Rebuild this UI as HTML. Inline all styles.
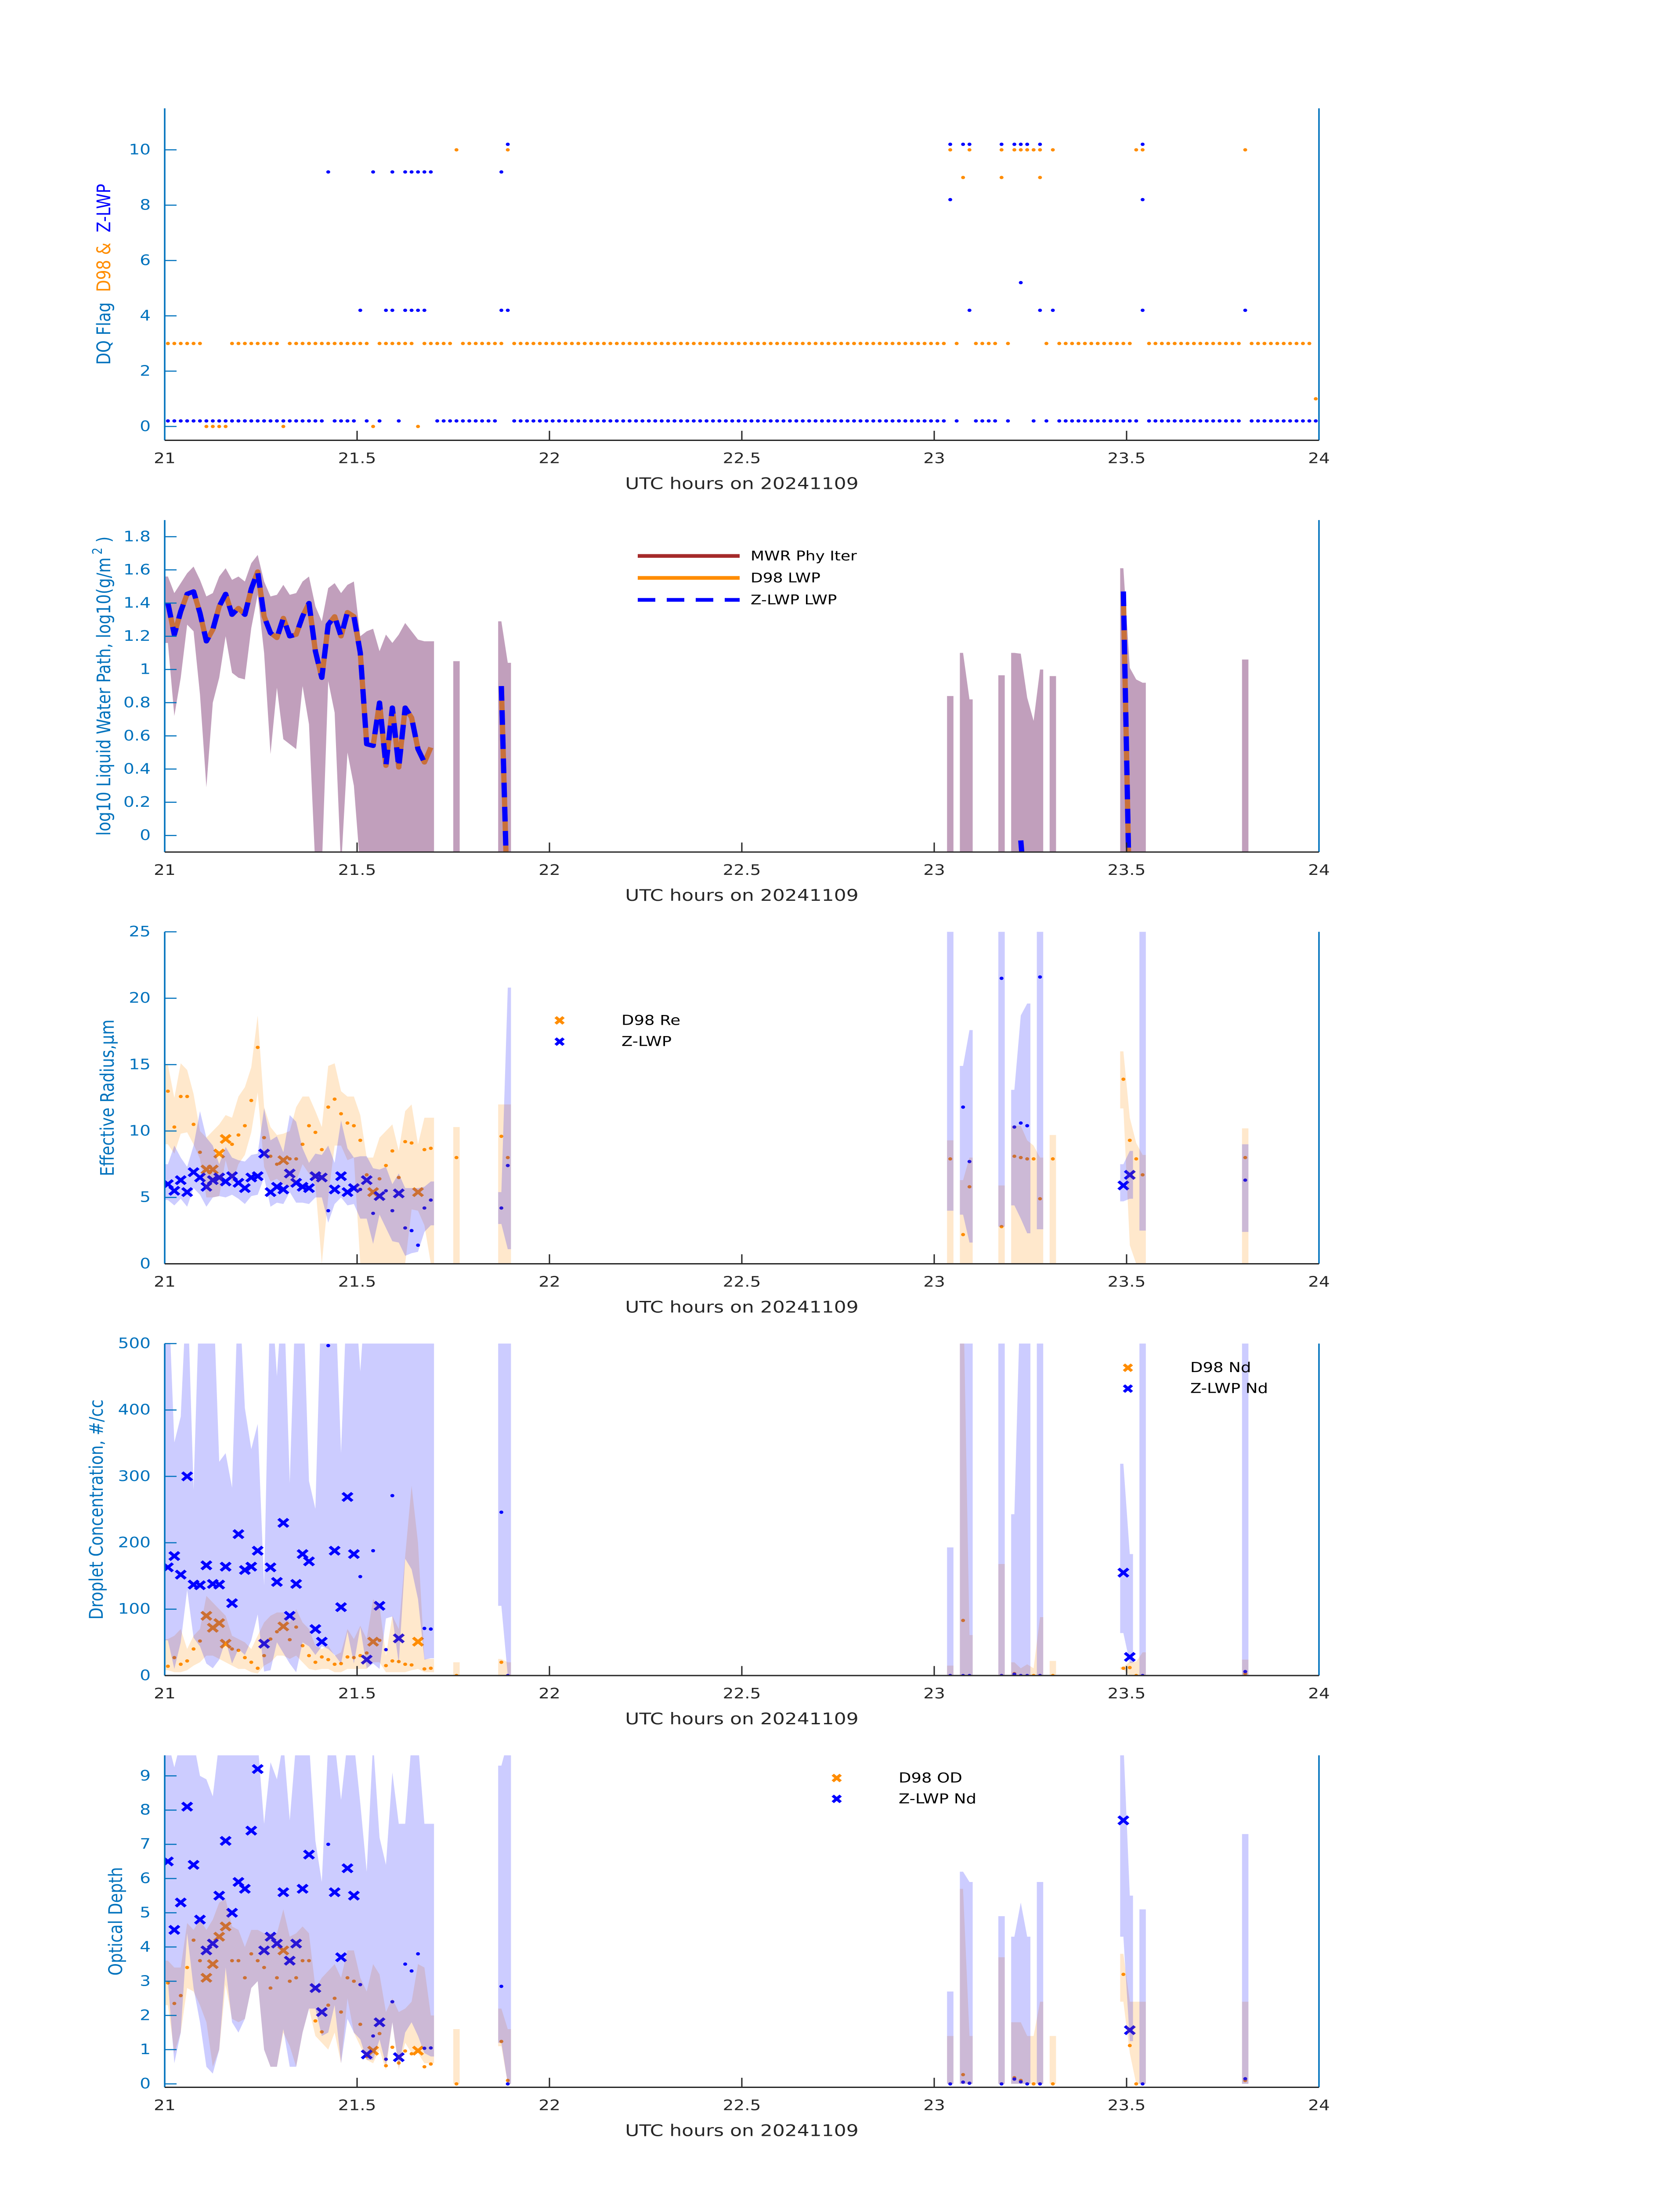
<!DOCTYPE html>
<html><head><meta charset="utf-8"><title>Cloud retrievals 20241109</title>
<style>html,body{margin:0;padding:0;background:#fff;width:100vw;height:100vh;overflow:hidden}svg{display:block;width:100vw;height:100vh}</style></head>
<body>
<svg id="chart" xmlns="http://www.w3.org/2000/svg" viewBox="0 0 3825 6000" preserveAspectRatio="none" font-family="'DejaVu Sans','Liberation Sans',sans-serif"></svg>
<script>
// ---------------- DATA ----------------
const xTicks=[21,21.5,22,22.5,23,23.5,24];
const xTickLabels=['21','21.5','22','22.5','23','23.5','24'];
// minute index since 21 UTC (sample time = 21 + (m+0.5)/60)
const minutes=[0,1,2,3,4,5,6,7,8,9,10,11,12,13,14,15,16,17,18,19,20,21,22,23,24,25,26,27,28,29,30,31,32,33,34,35,36,37,38,39,40,41,45,52,53,122,124,125,130,132,133,134,135,136,138,149,150,151,152,168];

// Panel 1: DQ flags, one per minute 0..179
const dqD98=[3,3,3,3,3,3,0,0,0,0,3,3,3,3,3,3,3,3,0,3,3,3,3,3,3,3,3,3,3,3,3,3,0,3,3,3,3,3,3,0,3,3,3,3,3,10,3,3,3,3,3,3,3,10,
3,3,3,3,3,3,3,3,3,3,3,3,3,3,3,3,3,3,3,3,3,3,3,3,3,3,3,3,3,3,3,3,3,3,3,3,3,3,3,3,3,3,3,3,3,3,3,3,3,3,3,3,3,3,3,3,3,3,3,3,3,3,3,3,3,3,3,3,
10,3,9,10,3,3,3,3,10,3,10,10,10,10,10,3,10,3,3,3,3,3,3,3,3,3,3,3,3,10,10,3,3,3,3,3,3,3,3,3,3,3,3,3,3,3,10,3,3,3,3,3,3,3,3,3,3,1];
const dqD98Extra={130:9,136:9};
const dqZ=[0.2,0.2,0.2,0.2,0.2,0.2,0.2,0.2,0.2,0.2,0.2,0.2,0.2,0.2,0.2,0.2,0.2,0.2,0.2,0.2,0.2,0.2,0.2,0.2,0.2,9.2,0.2,0.2,0.2,0.2,4.2,0.2,9.2,0.2,4.2,9.2,0.2,9.2,9.2,9.2,9.2,9.2,0.2,0.2,0.2,0.2,0.2,0.2,0.2,0.2,0.2,0.2,9.2,10.2,
0.2,0.2,0.2,0.2,0.2,0.2,0.2,0.2,0.2,0.2,0.2,0.2,0.2,0.2,0.2,0.2,0.2,0.2,0.2,0.2,0.2,0.2,0.2,0.2,0.2,0.2,0.2,0.2,0.2,0.2,0.2,0.2,0.2,0.2,0.2,0.2,0.2,0.2,0.2,0.2,0.2,0.2,0.2,0.2,0.2,0.2,0.2,0.2,0.2,0.2,0.2,0.2,0.2,0.2,0.2,0.2,0.2,0.2,0.2,0.2,0.2,0.2,0.2,0.2,0.2,0.2,0.2,0.2,
10.2,0.2,10.2,10.2,0.2,0.2,0.2,0.2,10.2,0.2,10.2,10.2,10.2,0.2,10.2,0.2,4.2,0.2,0.2,0.2,0.2,0.2,0.2,0.2,0.2,0.2,0.2,0.2,0.2,0.2,10.2,0.2,0.2,0.2,0.2,0.2,0.2,0.2,0.2,0.2,0.2,0.2,0.2,0.2,0.2,0.2,4.2,0.2,0.2,0.2,0.2,0.2,0.2,0.2,0.2,0.2,0.2,0.2];
const dqZExtra={35:4.2,37:4.2,38:4.2,39:4.2,40:4.2,52:4.2,53:4.2,122:8.2,125:4.2,133:5.2,136:4.2,152:8.2};
const dqZExtra2={152:4.2};

// Panel 2: log10 LWP
const lwpD98=[1.40,1.21,1.35,1.455,1.47,1.34,1.17,1.24,1.38,1.455,1.33,1.37,1.33,1.485,1.59,1.32,1.22,1.19,1.31,1.20,1.21,1.32,1.40,1.11,0.95,1.27,1.32,1.20,1.345,1.32,1.10,0.55,0.54,0.80,0.42,0.77,0.41,0.77,0.71,0.52,0.44,0.53,
null,0.9,-0.5, null,null,null,null,null,null,null,null,null,null,1.45,-0.5,null,null,null];
const lwpZ=[1.40,1.21,1.35,1.455,1.47,1.34,1.17,1.24,1.38,1.455,1.33,1.37,1.33,1.485,1.59,1.32,1.22,1.19,1.31,1.20,1.21,1.32,1.40,1.11,0.95,1.27,1.32,1.20,1.345,1.32,1.10,0.55,0.54,0.80,0.42,0.77,0.41,0.77,0.71,0.52,0.44,null,
null,0.9,-0.5, null,null,null,null,null,-0.03,-0.5,null,null,null,1.47,-0.5,null,null,null];
const lwpHi=[1.56,1.46,1.52,1.58,1.62,1.54,1.44,1.46,1.56,1.61,1.54,1.56,1.53,1.64,1.69,1.53,1.44,1.45,1.51,1.45,1.46,1.53,1.56,1.38,1.29,1.49,1.52,1.46,1.51,1.53,1.20,1.23,1.245,1.11,1.21,1.16,1.21,1.28,1.23,1.18,1.17,1.17,
1.05,1.29,1.04, 0.84,1.10,0.82,0.965,1.10,1.095,0.83,0.69,1.0,0.96,1.61,1.01,0.94,0.92,1.06];
const lwpLo=[1.16,0.72,0.95,1.27,1.23,0.85,0.29,0.80,0.95,1.20,0.98,0.95,0.94,1.25,1.45,1.10,0.49,0.89,0.58,0.55,0.52,0.90,0.67,-0.2,-0.2,0.93,0.74,-0.2,0.50,0.30,-0.2,-0.2,-0.2,-0.2,-0.2,-0.2,-0.2,-0.2,-0.2,-0.2,-0.2,-0.2,
-0.2,-0.2,-0.2, -0.2,-0.2,-0.2,-0.2,-0.2,-0.2,-0.2,-0.2,-0.2,-0.2,-0.2,-0.2,-0.2,-0.2,-0.2];

// quality flags: 1 = cross marker, 0 = dot
const zGood=[1,1,1,1,1,1,1,1,1,1,1,1,1,1,1,1,1,1,1,1,1,1,1,1,1,0,1,1,1,1,0,1,0,1,0,0,1,0,0,0,0,0, 0,0,0, 0,0,0,0,0,0,0,0,0,0,1,1,0,0,0];
const dGood=[0,0,0,0,0,0,1,1,1,1,0,0,0,0,0,0,0,0,1,0,0,0,0,0,0,0,0,0,0,0,0,0,1,0,0,0,0,0,0,1,0,0, 0,0,0, 0,0,0,0,0,0,0,0,0,0,0,0,0,0,0];

// Panel 3: effective radius (um)
const reZ=[6.0,5.5,6.3,5.4,6.9,6.5,5.8,6.3,6.5,6.2,6.6,6.1,5.7,6.5,6.6,8.3,5.4,5.8,5.6,6.8,6.1,5.8,5.7,6.6,6.5,4.0,5.6,6.6,5.4,5.7,5.6,6.3,3.8,5.1,5.5,4.0,5.3,2.7,2.5,1.4,4.2,4.8,
null,4.2,7.4, null,11.8,7.7,21.5,10.3,10.6,10.4,null,21.6,null,5.9,6.7,null,null,6.3];
const reZLo=[4.8,4.4,4.9,4.3,5.7,5.2,4.3,5.0,5.1,5.0,5.2,4.9,4.5,5.1,5.2,6.5,4.3,4.6,4.5,5.4,4.6,4.6,4.5,5.0,5.0,3.1,4.5,5.0,4.4,4.5,3.4,3.4,1.5,3.7,2.7,1.7,1.6,0.6,0.8,0.9,2.4,2.9,
null,3.0,1.1, 4.0,3.7,1.6,2.8,4.4,3.4,2.3,null,2.6,null,4.7,4.9,null,2.5,2.4];
const reZHi=[7.5,8.9,8.0,7.3,8.9,11.5,9.5,8.9,7.5,8.8,8.0,7.8,7.7,8.2,8.3,11.7,9.3,9.6,8.4,11.2,10.7,8.7,7.6,8.3,8.2,8.9,7.6,10.8,8.7,8.0,8.1,8.1,7.2,7.1,7.3,6.0,6.8,5.7,5.7,5.7,5.8,6.2,
null,5.4,20.8, 30,14.9,17.6,30,13.1,18.7,19.6,null,30,null,7.5,8.5,null,30,9.0];
const reD98=[13.0,10.3,12.6,12.6,10.5,8.4,7.1,7.1,8.3,9.4,9.0,9.7,10.4,12.3,16.3,9.5,8.1,7.5,7.8,7.9,7.9,9.0,10.4,9.9,8.6,11.8,12.4,11.3,10.6,10.4,9.3,6.7,5.4,6.4,7.4,8.5,6.5,9.2,9.1,5.4,8.6,8.7,
8.0,9.6,8.0, 7.9,2.2,5.8,2.8,8.1,8.0,7.9,7.9,4.9,7.9,13.9,9.3,7.9,6.7,8.0];
const reD98Lo=[9,8.3,9.8,9.9,9.0,7.9,5.0,5.0,5.1,7.8,6.0,7.5,8.2,9.9,12.9,7.3,6.2,6.4,6.0,5.8,6.2,7.5,6.8,5.9,0,5.0,8.9,8.9,7.8,8.0,0,0,0,0,0,0,0,0,4.1,4.0,2.9,0,
0,0,0, 0,0,0,0,0,0,0,0,0,0,11.7,1.4,0,0,0];
const reD98Hi=[15,12.5,15.1,14.6,12.8,10.0,9.5,10.0,10.5,11.2,11.0,12.6,13.3,14.8,18.7,11.8,10.3,9.7,9.8,10.0,11.8,12.6,12.6,11.5,10.3,14.9,15.1,13.0,12.6,12.6,11.2,8.0,8.0,9.5,10.0,10.5,8.5,11.5,12.0,9.0,11.0,11.0,
10.3,12.0,12.0, 9.3,6.3,8.0,5.9,10.4,10.4,9.3,8.9,8.0,9.7,16.0,11.0,9.1,8.2,10.2];

// Panel 4: droplet concentration (#/cc)
const ndZ=[163,180,152,300,137,136,166,138,137,164,109,213,159,164,188,48,163,141,230,90,138,183,172,70,51,497,188,103,269,183,149,24,188,105,39,271,56,null,null,null,71,70,
null,246,0, 0,0,0,0,2,0,0,null,0,null,155,28,null,0,6];
const ndZLo=[53,10,50,129,57,44,18,11,24,53,18,40,31,53,92,6,8,50,34,18,5,50,44,31,44,40,31,18,66,18,73,11,18,10,86,89,18,176,160,115,24,26,
null,105,0, 0,0,0,0,0,0,0,null,0,null,64,19,null,0,0];
const ndZHi=[600,351,390,600,280,600,600,600,322,335,283,600,403,341,379,136,600,451,600,290,600,600,293,251,600,600,600,335,600,600,458,600,600,600,600,600,600,600,600,600,600,600,
null,600,600, 193,600,600,600,243,600,600,null,600,null,319,183,null,600,600];
const ndD98=[14,27,17,22,40,52,90,72,79,48,40,38,27,20,11,30,55,66,74,54,73,45,30,20,28,24,17,18,28,27,30,34,51,53,15,22,21,17,16,51,10,11,
0,20,null, null,83,null,0,3,null,null,0,0,0,11,12,0,null,3];
const ndD98Lo=[8,5,5,8,15,20,30,30,25,20,15,10,10,5,3,15,20,30,30,25,30,20,10,8,10,10,5,5,10,10,10,10,20,20,5,5,5,5,8,10,5,5,
0,0,0, 0,0,0,0,0,0,0,0,0,0,9,0,0,0,0];
const ndD98Hi=[55,60,70,40,60,70,120,110,100,90,60,55,50,40,60,80,90,95,95,80,100,80,70,45,40,45,30,35,70,55,75,55,115,105,30,90,70,180,286,200,25,25,
20,25,20, 15,600,61,168,20,11,17,11,88,22,13,21,21,35,24];

// Panel 5: optical depth
const odZ=[6.5,4.5,5.3,8.1,6.4,4.8,3.9,4.1,5.5,7.1,5.0,5.9,5.7,7.4,9.2,3.9,4.3,4.1,5.6,3.6,4.1,5.7,6.7,2.8,2.1,7.0,5.6,3.7,6.3,5.5,2.9,0.86,1.4,1.8,0.72,2.4,0.78,3.5,3.3,3.8,1.04,1.05,
null,2.85,0, 0,0.05,0.02,0,0.14,0.06,0,null,0,null,7.7,1.57,null,0,0.15];
const odZLo=[3.0,0.6,1.5,4.4,2.8,1.8,0.5,0.3,1.0,3.4,1.8,1.5,1.9,2.8,3.0,1.0,0.5,0.5,1.6,0.5,0.5,1.5,2.2,2.2,1.4,1.5,2.3,0.6,1.9,1.5,1.3,0.7,0.7,1.3,0.55,1.8,0.5,1.5,1.8,1.4,0.9,0.8,
null,1.2,0, 0,0,0,0,0,0,0,null,0,null,4.3,1.25,null,0,0];
const odZHi=[10,9.25,10,10,10,9.0,8.9,8.4,10,10,10,10,10,10,10,7.6,9.4,8.9,10,7.7,10,10,10,7.1,5.9,10,10,8.3,10,10,8.2,6.2,10,7.2,6.4,9.1,7.6,7.6,10,10,7.6,7.6,
null,9.3,10, 2.7,6.2,5.9,4.9,4.3,5.3,4.3,null,5.9,null,10,5.5,null,5.1,7.3];
const odD98=[2.95,2.35,2.58,3.4,4.2,3.6,3.1,3.5,4.3,4.6,3.6,3.6,3.1,3.8,3.6,3.4,2.8,3.1,3.9,3.0,3.1,3.6,3.6,1.84,1.52,2.3,2.5,2.1,3.1,3.0,1.74,0.8,0.97,1.47,0.53,1.07,0.61,0.96,0.88,0.97,0.5,0.58,
0,1.24,0.1, null,0.27,null,null,0.18,0.1,null,0,null,0,3.2,1.12,0,null,0.1];
const odD98Lo=[2.3,0.9,1.5,2.8,2.7,2.3,1.8,0.5,1.0,2.9,1.9,1.8,1.9,2.8,3.0,1.0,0.5,0.5,1.5,1.1,0.5,1.5,2.2,1.4,1.2,1.0,1.5,0.6,2.5,1.5,1.1,0.7,0.6,1.0,0.4,1.8,0.4,1.2,0.9,0.9,0.6,0.6,
0,1.1,0, 0,0,0,0,0,0,0,0,0,0,2.4,0.9,0,0,0];
const odD98Hi=[3.6,3.4,3.4,4.7,4.5,4.8,4.5,4.8,5.3,5.4,4.6,4.5,4.0,4.5,4.5,4.4,4.4,4.4,5.1,4.3,4.4,4.6,4.4,2.8,3.1,3.3,3.5,3.1,3.9,3.9,3.1,2.7,3.5,3.2,2.1,2.5,2.1,2.2,2.4,3.5,3.4,2.0,
1.6,2.2,1.6, 1.4,5.7,1.4,3.7,1.8,1.8,1.4,1.4,2.4,1.4,3.8,2.4,2.4,2.4,2.4];

const p1Ticks=[0,2,4,6,8,10];
const p2Ticks=[0,0.2,0.4,0.6,0.8,1,1.2,1.4,1.6,1.8];
const p3Ticks=[0,5,10,15,20,25];
const p4Ticks=[0,100,200,300,400,500];
const p5Ticks=[0,1,2,3,4,5,6,7,8,9];

// ---------------- RENDER ----------------
const NS='http://www.w3.org/2000/svg';
const svg=document.getElementById('chart');
const X0=375,X1=3003,PH=907;
const BLUE='#0000FF',ORANGE='#FF8C00',AXBLUE='#0072BD',DARK='#262626';
function mk(tag,attrs,parent){const e=document.createElementNS(NS,tag);for(const k in attrs)e.setAttribute(k,attrs[k]);(parent||svg).appendChild(e);return e;}
function xs(t){return X0+(t-21)/3*(X1-X0);}
function tOf(m){return 21+(m+0.5)/60;}
const defs=mk('defs',{});

function makePanel(name,top,ymin,ymax){
  const bot=top+PH;
  const ys=v=>bot-(v-ymin)/(ymax-ymin)*PH;
  const cp=mk('clipPath',{id:'clip-'+name},defs);
  mk('rect',{x:X0,y:top,width:X1-X0,height:PH},cp);
  const g=mk('g',{});
  
  
  const plot=mk('g',{'clip-path':'url(#clip-'+name+')'},g);
  
  
  return {name,top,bot,ys,g,plot};
}
function runs(vals){
  const out=[];let cur=[];
  for(let i=0;i<minutes.length;i++){
    const ok=vals.every(a=>a[i]!==null&&a[i]!==undefined);
    if(ok&&cur.length&&minutes[i]===minutes[cur[cur.length-1]]+1){cur.push(i);}
    else{if(cur.length)out.push(cur);cur=ok?[i]:[];}
  }
  if(cur.length)out.push(cur);
  return out;
}
function drawBand(p,lo,hi,color,op,name){
  const g=mk('g',{fill:color,'fill-opacity':op},p.plot);
  
  
  runs([lo,hi]).forEach(r=>{
    const top=[],bo=[];
    const f=r[0],l=r[r.length-1];
    top.push([xs(tOf(minutes[f]-0.5)),p.ys(hi[f])]);
    r.forEach(i=>top.push([xs(tOf(minutes[i])),p.ys(hi[i])]));
    top.push([xs(tOf(minutes[l]+0.5)),p.ys(hi[l])]);
    bo.push([xs(tOf(minutes[f]-0.5)),p.ys(lo[f])]);
    r.forEach(i=>bo.push([xs(tOf(minutes[i])),p.ys(lo[i])]));
    bo.push([xs(tOf(minutes[l]+0.5)),p.ys(lo[l])]);
    const pts=top.concat(bo.reverse()).map(q=>q[0].toFixed(1)+','+q[1].toFixed(1)).join(' ');
    const poly=mk('polygon',{points:pts},g);
    
    
  });
}
function drawCross(parent,x,y,color,s){
  const g=mk('g',{stroke:color,'stroke-width':7.5},parent);
  mk('line',{x1:x-s,y1:y-s,x2:x+s,y2:y+s},g);
  mk('line',{x1:x-s,y1:y+s,x2:x+s,y2:y-s},g);
  return g;
}
function drawMarkers(p,vals,good,color,name){
  const g=mk('g',{},p.plot);
  
  
  for(let i=0;i<minutes.length;i++){
    if(vals[i]===null)continue;
    const x=xs(tOf(minutes[i])),y=p.ys(vals[i]);
    let el;
    if(good[i]){el=drawCross(g,x,y,color,11);}
    else{el=mk('circle',{cx:x,cy:y,r:4.5,fill:color},g);}
    
    
  }
}
function drawLine(p,vals,color,w,dash,name){
  const g=mk('g',{fill:'none',stroke:color,'stroke-width':w,'stroke-linejoin':'round','stroke-dasharray':dash||'none'},p.plot);
  
  
  runs([vals]).forEach(r=>{
    if(r.length<2)return;
    const pts=r.map(i=>xs(tOf(minutes[i])).toFixed(1)+','+p.ys(vals[i]).toFixed(1)).join(' ');
    const pl=mk('polyline',{points:pts},g);
    
    
  });
}
function drawAxes(p,ticks,labelParts,labelX){
  const g=mk('g',{},p.g);
  
  
  ticks.forEach(v=>{
    const y=p.ys(v);
    const t=mk('line',{x1:X0,y1:y,x2:X0+27,y2:y,stroke:AXBLUE,'stroke-width':3},g);
    
    
    const tx=mk('text',{x:343,y:y,'text-anchor':'end','dominant-baseline':'central','font-size':39,fill:AXBLUE},g);
    tx.textContent=String(v);
    
    
  });
  xTicks.forEach((v,i)=>{
    const x=xs(v);
    const t=mk('line',{x1:x,y1:p.bot,x2:x,y2:p.bot-26,stroke:DARK,'stroke-width':3},g);
    
    
    const tx=mk('text',{x:x,y:p.bot+50,'text-anchor':'middle','dominant-baseline':'central','font-size':39,fill:DARK},g);
    tx.textContent=xTickLabels[i];
    
    
  });
  const la=mk('line',{x1:X0,y1:p.top,x2:X0,y2:p.bot,stroke:AXBLUE,'stroke-width':3.5},g);
  
  
  const ra=mk('line',{x1:X1,y1:p.top,x2:X1,y2:p.bot,stroke:AXBLUE,'stroke-width':3.5},g);
  
  
  const ba=mk('line',{x1:X0,y1:p.bot,x2:X1,y2:p.bot,stroke:DARK,'stroke-width':3.5},g);
  
  
  const xl=mk('text',{x:(X0+X1)/2,y:p.bot+118,'text-anchor':'middle','dominant-baseline':'central','font-size':44,fill:DARK},g);
  xl.textContent='UTC hours on 20241109';
  
  
  const cy=(p.top+p.bot)/2;
  const yl=mk('text',{x:labelX,y:cy,'text-anchor':'middle','dominant-baseline':'central','font-size':43,transform:'rotate(-90 '+labelX+' '+cy+')'},g);
  
  
  labelParts.forEach(pt=>{
    const s=mk('tspan',pt.a||{},yl);
    s.setAttribute('fill',pt.c);
    s.textContent=pt.t;
  });
}
function legendLine(x,y,color,dash,label,name){
  const l=mk('line',{x1:1452,y1:y,x2:1684,y2:y,stroke:color,'stroke-width':10,'stroke-dasharray':dash||'none'});
  
  
  const t=mk('text',{x:1709,y:y,'dominant-baseline':'central','font-size':36,fill:'#000'});
  t.textContent=label;
  
  
}
function legendMarker(x,tx,y,color,label,name){
  const m=drawCross(svg,x,y,color,9);
  
  
  const t=mk('text',{x:tx,y:y,'dominant-baseline':'central','font-size':37,fill:'#000'});
  t.textContent=label;
  
  
}

// ---- Panel 1: DQ flags ----
const P1=makePanel('dq-flag',296,-0.5,11.5);
function flagDots(arr,color,name){
  const g=mk('g',{fill:color},P1.plot);
  
  
  arr.forEach((v,k)=>{if(v===null||v===undefined)return;
    const c=mk('circle',{cx:xs(tOf(k)),cy:P1.ys(v),r:4.5},g);
    
    });
}
function flagDotsSparse(obj,color,name){
  const g=mk('g',{fill:color},P1.plot);
  
  
  Object.keys(obj).forEach(k=>{
    const c=mk('circle',{cx:xs(tOf(+k)),cy:P1.ys(obj[k]),r:4.5},g);
    
    });
}
flagDots(dqD98,ORANGE,'d98-flag');
flagDotsSparse(dqD98Extra,ORANGE,'d98-flag-extra');
flagDots(dqZ,BLUE,'zlwp-flag');
flagDotsSparse(dqZExtra,BLUE,'zlwp-flag-extra');
flagDotsSparse(dqZExtra2,BLUE,'zlwp-flag-extra2');
drawAxes(P1,p1Ticks,[{t:'DQ Flag',c:AXBLUE},{t:'D98 &',c:ORANGE,a:{dx:28}},{t:'Z-LWP',c:BLUE,a:{dx:28}}],237);

// ---- Panel 2: LWP ----
const P2=makePanel('lwp',1421,-0.1,1.9);
drawBand(P2,lwpLo,lwpHi,'#C19FBC',1,'mwr-lwp-uncertainty-band');
drawLine(P2,lwpD98,'#C9703A',12,null,'d98-lwp-line');
drawLine(P2,lwpZ,BLUE,12,'40 26','zlwp-lwp-line');
drawAxes(P2,p2Ticks,[{t:'log10 Liquid Water Path, log10(g/m',c:AXBLUE},{t:'2',c:AXBLUE,a:{dx:8,dy:-16,'font-size':30}},{t:' )',c:AXBLUE,a:{dy:16}}],237);
legendLine(0,1519,'#A52A2A',null,'MWR Phy Iter','legend-mwr');
legendLine(0,1579,ORANGE,null,'D98 LWP','legend-d98-lwp');
legendLine(0,1639,BLUE,'40 26','Z-LWP LWP','legend-zlwp-lwp');

// ---- Panels 3-5 ----
function retrievalPanel(name,top,ymin,ymax,zv,zlo,zhi,dv,dlo,dhi){
  const P=makePanel(name,top,ymin,ymax);
  drawMarkers(P,dv,dGood,ORANGE,name+'-d98-points');
  drawMarkers(P,zv,zGood,BLUE,name+'-zlwp-points');
  drawBand(P,dlo,dhi,ORANGE,0.2,name+'-d98-band');
  drawBand(P,zlo,zhi,BLUE,0.2,name+'-zlwp-band');
  return P;
}
const P3=retrievalPanel('effective-radius',2546,0,25,reZ,reZLo,reZHi,reD98,reD98Lo,reD98Hi);
drawAxes(P3,p3Ticks,[{t:'Effective Radius,\u03bcm',c:AXBLUE}],245);
legendMarker(1274,1415,2788,ORANGE,'D98 Re','legend-d98-re');
legendMarker(1274,1415,2846,BLUE,'Z-LWP','legend-zlwp-re');

const P4=retrievalPanel('droplet-concentration',3671,0,500,ndZ,ndZLo,ndZHi,ndD98,ndD98Lo,ndD98Hi);
drawAxes(P4,p4Ticks,[{t:'Droplet Concentration, #/cc',c:AXBLUE}],220);
legendMarker(2568,2710,3737,ORANGE,'D98 Nd','legend-d98-nd');
legendMarker(2568,2710,3794,BLUE,'Z-LWP Nd','legend-zlwp-nd');

const P5=retrievalPanel('optical-depth',4796,-0.1,9.6,odZ,odZLo,odZHi,odD98,odD98Lo,odD98Hi);
drawAxes(P5,p5Ticks,[{t:'Optical Depth',c:AXBLUE}],264);
legendMarker(1905,2046,4858,ORANGE,'D98 OD','legend-d98-od');
legendMarker(1905,2046,4915,BLUE,'Z-LWP Nd','legend-zlwp-od');
</script>
</body></html>
